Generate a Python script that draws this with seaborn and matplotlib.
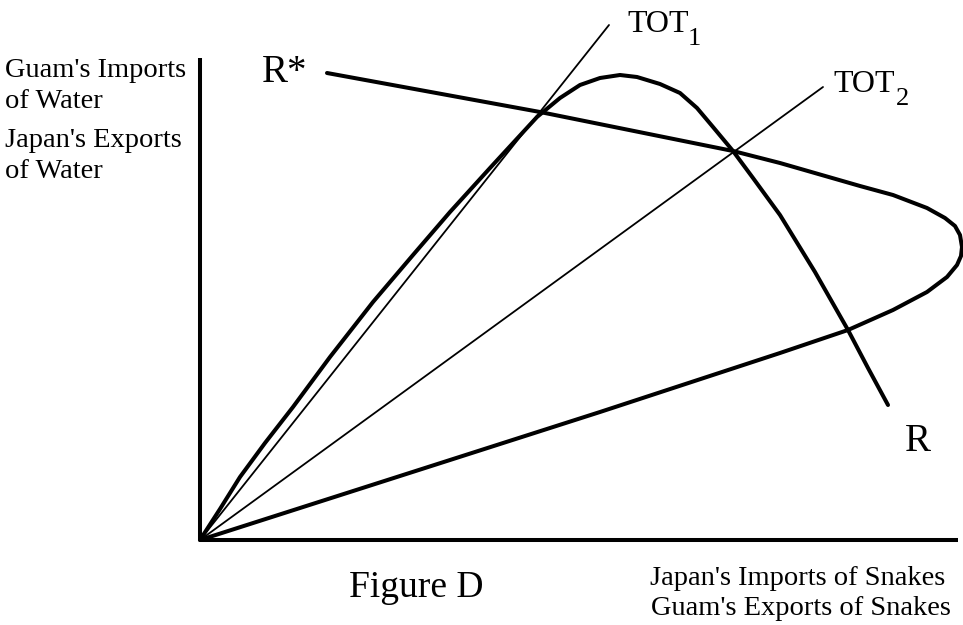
import matplotlib
matplotlib.use("Agg")
import matplotlib.pyplot as plt
import seaborn as sns

sns.set_theme(style="white")
plt.rcParams['font.family'] = ['Liberation Serif', 'DejaVu Serif']
plt.rcParams['text.color'] = 'black'

# Offer curve R (x = snakes, y = water, origin at 0,0)
r_x = [0, 20, 40, 65, 93, 130, 173, 213, 250, 290, 337, 360, 380, 400, 420, 437, 460, 480, 497, 513, 533, 553, 580, 615, 648, 668, 688]
r_y = [0, 31, 63, 97, 133, 183, 238, 285, 328, 372, 423, 442, 455, 462, 465, 463, 456, 447, 432, 413, 389, 362, 325, 268, 210, 172, 135]

# Offer curve R* (from its labelled end, round the bulge, back to the origin)
rs_x = [127, 340, 533, 580, 660, 693, 727, 745, 755, 760, 762, 761, 757, 747, 727, 693, 648, 580, 400, 200, 0]
rs_y = [467, 428, 389, 377, 354, 345, 332, 322, 314, 305, 293, 284, 275, 263, 248, 230, 210, 187, 128, 64, 0]

# Terms-of-trade rays
tot1_x = [0, 409]
tot1_y = [0, 515]
tot2_x = [0, 623]
tot2_y = [0, 453]

x_axis_len = 758
y_axis_len = 482

fig = plt.figure(figsize=(9.63, 6.25), dpi=100)
ax = fig.add_axes([0, 0, 1, 1])
ax.set_xlim(-200, 763)
ax.set_ylim(-85, 540)

thick = 2.9
thin = 1.3

sns.lineplot(x=tot1_x, y=tot1_y, sort=False, estimator=None, color='black', lw=thin, ax=ax)
sns.lineplot(x=tot2_x, y=tot2_y, sort=False, estimator=None, color='black', lw=thin, ax=ax)
sns.lineplot(x=r_x, y=r_y, sort=False, estimator=None, color='black', lw=thick, ax=ax,
             solid_joinstyle='round', solid_capstyle='round')
sns.lineplot(x=rs_x, y=rs_y, sort=False, estimator=None, color='black', lw=thick, ax=ax,
             solid_joinstyle='round', solid_capstyle='round')

ax.plot([0, x_axis_len], [0, 0], color='black', lw=thick, solid_capstyle='butt')
ax.plot([0, 0], [0, y_axis_len], color='black', lw=thick, solid_capstyle='butt')

for s in ax.spines.values():
    s.set_visible(False)
ax.set_xticks([])
ax.set_yticks([])

lab = 20.5
tc = 'black'
ax.text(-195, 540 - 77, "Guam's Imports", fontsize=lab, va='baseline', ha='left', color=tc)
ax.text(-195, 540 - 108, "of Water", fontsize=lab, va='baseline', ha='left', color=tc)
ax.text(-195, 540 - 147, "Japan's Exports", fontsize=lab, va='baseline', ha='left', color=tc)
ax.text(-195, 540 - 178, "of Water", fontsize=lab, va='baseline', ha='left', color=tc)

ax.text(450, 540 - 585, "Japan's Imports of Snakes", fontsize=lab, va='baseline', ha='left', color=tc)
ax.text(451, 540 - 615, "Guam's Exports of Snakes", fontsize=lab, va='baseline', ha='left', color=tc)

ax.text(149, 540 - 597, "Figure D", fontsize=27, va='baseline', ha='left', color=tc)

ax.text(62, 540 - 82, "R*", fontsize=28, va='baseline', ha='left', color=tc)
ax.text(705, 540 - 451, "R", fontsize=28, va='baseline', ha='left', color=tc)

ax.text(427, 540 - 32, "TOT", fontsize=23, va='baseline', ha='left', color=tc)
ax.text(488, 540 - 45, "1", fontsize=19, va='baseline', ha='left', color=tc)
ax.text(633, 540 - 92, "TOT", fontsize=23, va='baseline', ha='left', color=tc)
ax.text(696, 540 - 105, "2", fontsize=19, va='baseline', ha='left', color=tc)

fig.savefig("out.png", dpi=100)
